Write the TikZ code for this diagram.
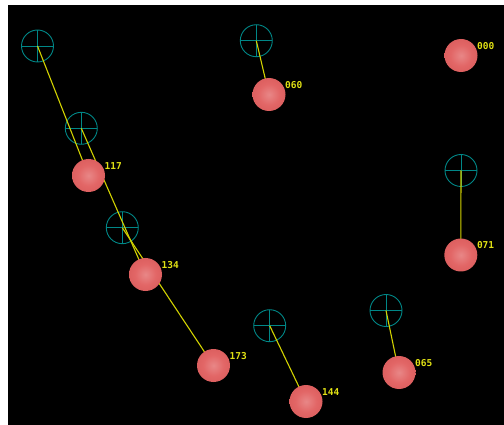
\documentclass[tikz,border=0pt]{standalone}
\usepackage{fontspec}
\newfontfamily\labfont{DejaVu Sans Mono}
\definecolor{teal1}{RGB}{0,135,135}
\definecolor{yel}{RGB}{210,210,0}
\definecolor{labyel}{RGB}{225,225,20}
\definecolor{sphA}{RGB}{232,135,135}
\definecolor{sphB}{RGB}{226,102,102}
\definecolor{sphC}{RGB}{212,86,86}
\definecolor{sphD}{RGB}{160,52,52}
\pgfdeclareradialshading{sphereshade}{\pgfpoint{0bp}{0bp}}{color(0bp)=(sphA); color(16bp)=(sphB); color(38bp)=(sphC); color(50bp)=(sphD)}
\tikzset{
  cross/.style={circle, draw=teal1, line width=0.9pt, minimum size=32pt, inner sep=0pt,
    path picture={\draw[teal1, line width=0.9pt] (path picture bounding box.north) -- (path picture bounding box.south)
      (path picture bounding box.west) -- (path picture bounding box.east);}},
  sphere/.style={circle, minimum size=33pt, inner sep=0pt, shading=sphereshade},
  link/.style={yel, line width=1.1pt},
  lab/.style={anchor=west, inner sep=0pt, text=labyel, font=\labfont\bfseries\fontsize{9.5}{10}\selectfont}
}
\begin{document}
\begin{tikzpicture}[x=1pt,y=-1pt]
\useasboundingbox (0,0) rectangle (504,425);
\fill[white] (0,0) rectangle (504,425);
\fill[black] (8,5) rectangle (504,425);
% crosshairs
\node[cross] (c1) at (37.5,46) {};
\node[cross] (c2) at (81.3,128.3) {};
\node[cross] (c3) at (122.3,227.7) {};
\node[cross] (c4) at (256.3,40.7) {};
\node[cross] (c5) at (461,170.5) {};
\node[cross] (c6) at (269.7,325.7) {};
\node[cross] (c7) at (386,310.5) {};
% sphere positions
\coordinate (p000) at (461,55.5);
\coordinate (p060) at (269,94.5);
\coordinate (p117) at (88.5,175.5);
\coordinate (p071) at (460.8,255);
\coordinate (p134) at (145.5,274.5);
\coordinate (p065) at (399,372.5);
\coordinate (p173) at (213.5,365.5);
\coordinate (p144) at (306,401.5);
% links
\draw[link] (c1.center) -- (p117);
\draw[link] (c2.center) -- (p134);
\draw[link] (c3.center) -- (p173);
\draw[link] (c4.center) -- (p060);
\draw[link] (c5.center) -- (p071);
\draw[link] (c6.center) -- (p144);
\draw[link] (c7.center) -- (p065);
% spheres
\foreach \n in {000,060,117,071,134,065,173,144}{
  \node[sphere] (s\n) at (p\n) {};
  \node[lab] (l\n) at ([shift={(16,-9.5)}]s\n.center) {\n};
}
\end{tikzpicture}
\end{document}
